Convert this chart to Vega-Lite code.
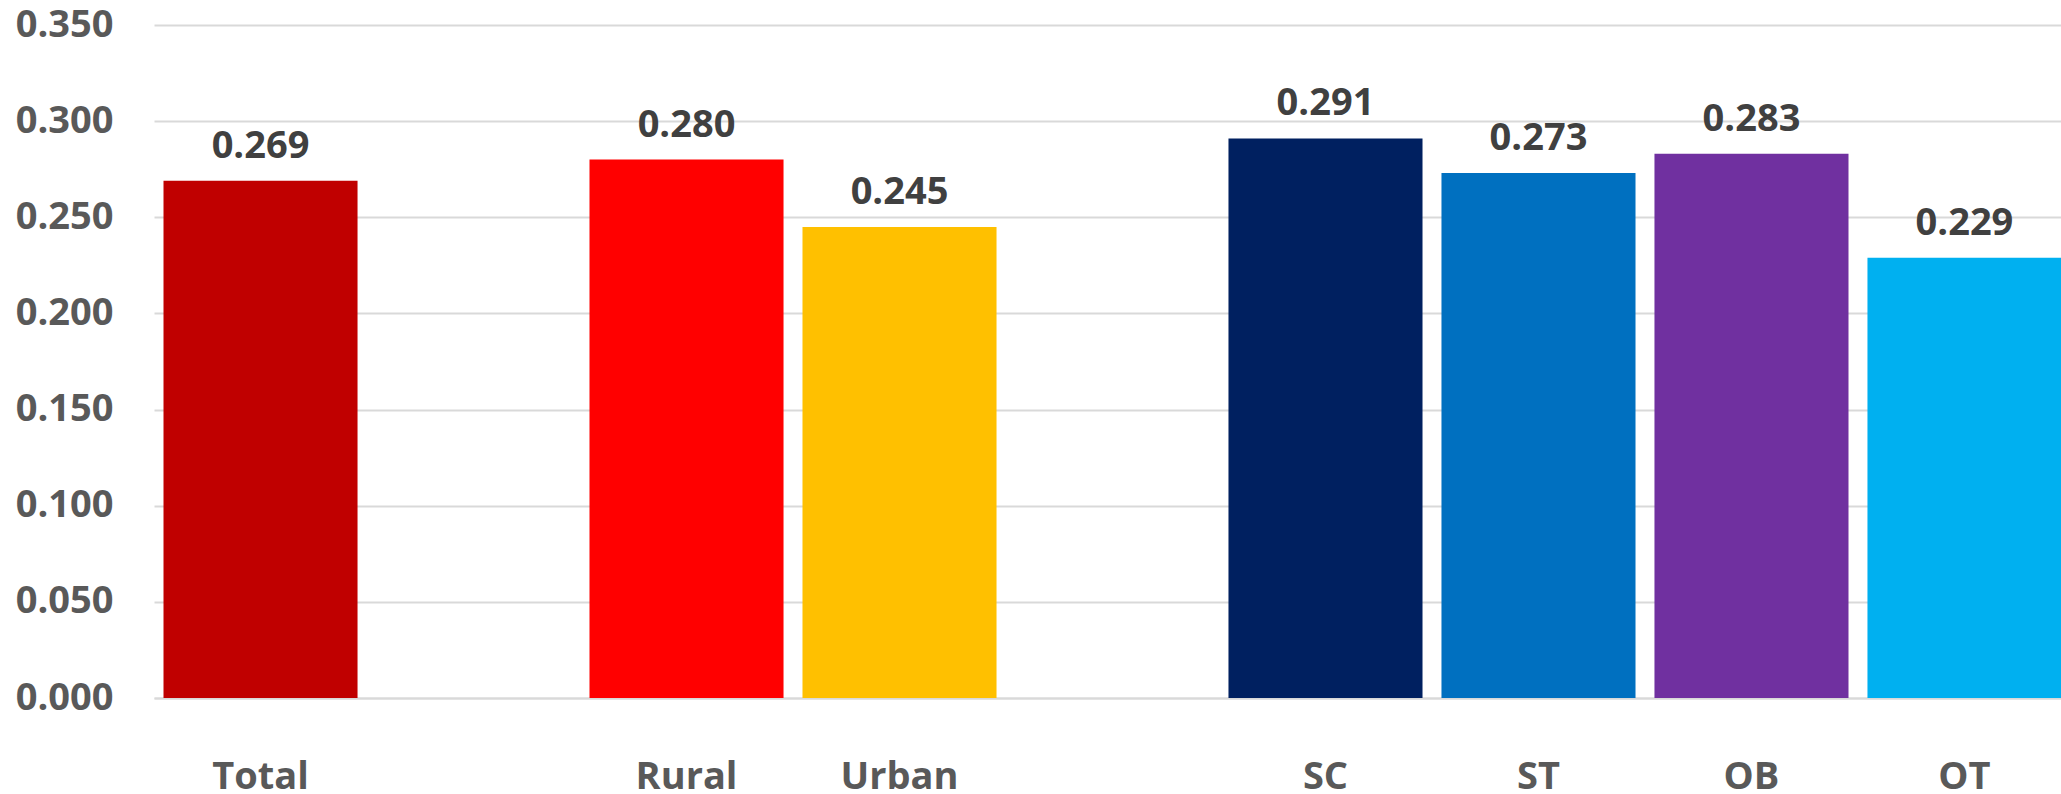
{
  "$schema": "https://vega.github.io/schema/vega-lite/v6.json",
  "autosize": {"type": "none"},
  "width": 1907,
  "height": 673,
  "padding": {"left": 154, "top": 25, "right": 0, "bottom": 96},
  "background": "white",
  "config": {
    "view": {"stroke": null},
    "font": "Open Sans"
  },
  "data": {
    "values": [
      {"group": "Total", "value": 0.269},
      {"group": "Rural", "value": 0.280},
      {"group": "Urban", "value": 0.245},
      {"group": "SC", "value": 0.291},
      {"group": "ST", "value": 0.273},
      {"group": "OB", "value": 0.283},
      {"group": "OT", "value": 0.229}
    ]
  },
  "encoding": {
    "x": {
      "field": "group",
      "type": "nominal",
      "sort": null,
      "scale": {
        "domain": ["Total", " ", "Rural", "Urban", "  ", "SC", "ST", "OB", "OT"],
        "range": [0, 1917],
        "paddingInner": 0.089,
        "paddingOuter": 0.0446
      },
      "axis": {
        "title": null,
        "labelAngle": 0,
        "labelFont": "Open Sans",
        "labelFontSize": 38,
        "labelFontWeight": "bold",
        "labelColor": "#595959",
        "labelBaseline": "alphabetic",
        "labelPadding": 90,
        "ticks": false,
        "tickSize": 0,
        "domainColor": "#D9D9D9",
        "domainWidth": 2,
        "grid": false
      }
    },
    "y": {
      "field": "value",
      "type": "quantitative",
      "scale": {"domain": [0, 0.35], "nice": false, "zero": true},
      "axis": {
        "title": null,
        "values": [0, 0.05, 0.1, 0.15, 0.2, 0.25, 0.3, 0.35],
        "format": ".3f",
        "labelFont": "Open Sans",
        "labelFontSize": 38,
        "labelFontWeight": "bold",
        "labelColor": "#595959",
        "labelPadding": 41,
        "ticks": false,
        "tickSize": 0,
        "domain": false,
        "grid": true,
        "gridColor": "#D9D9D9",
        "gridWidth": 2
      }
    }
  },
  "layer": [
    {
      "mark": {"type": "bar"},
      "encoding": {
        "color": {
          "field": "group",
          "type": "nominal",
          "scale": {
            "domain": ["Total", "Rural", "Urban", "SC", "ST", "OB", "OT"],
            "range": ["#C00000", "#FF0000", "#FFC000", "#002060", "#0070C0", "#7030A0", "#00B0F0"]
          },
          "legend": null
        }
      }
    },
    {
      "mark": {
        "type": "text",
        "baseline": "alphabetic",
        "align": "center",
        "dy": -23,
        "font": "Open Sans",
        "fontSize": 38,
        "fontWeight": "bold",
        "color": "#404040"
      },
      "encoding": {
        "text": {"field": "value", "type": "quantitative", "format": ".3f"}
      }
    }
  ]
}
